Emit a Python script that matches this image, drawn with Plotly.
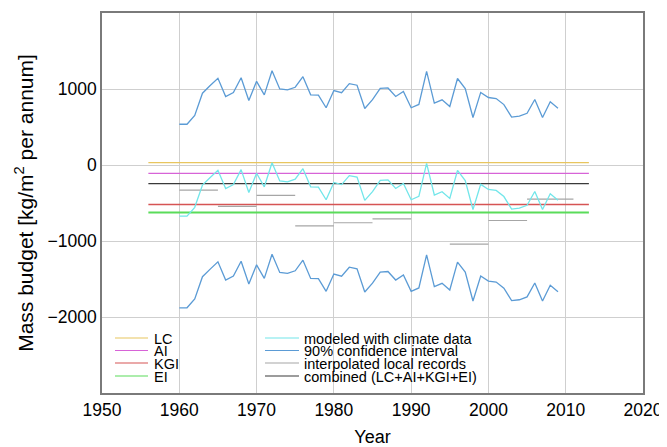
import plotly.graph_objects as go

years = list(range(1960, 2010))
modeled = [-674, -674, -557, -265, -165, -69, -309, -257, -61, -361,
           -109, -287, 30, -209, -222, -187, -48, -287, -291, -457,
           -230, -258, -140, -160, -466, -350, -203, -196, -309, -243,
           -457, -413, 22, -395, -352, -440, -72, -205, -585, -255,
           -322, -335, -415, -580, -568, -530, -348, -585, -378, -463]
ci_upper = [536, 536, 653, 945, 1045, 1141, 901, 953, 1149, 849,
            1101, 923, 1240, 1001, 988, 1023, 1162, 923, 919, 753,
            980, 952, 1070, 1050, 744, 860, 1007, 1014, 901, 967,
            753, 797, 1232, 815, 858, 770, 1138, 1005, 625, 955,
            888, 875, 795, 630, 642, 680, 862, 625, 832, 747]
ci_lower = [-1879, -1879, -1762, -1470, -1370, -1274, -1514, -1462, -1266, -1566,
            -1314, -1492, -1175, -1414, -1427, -1392, -1253, -1492, -1496, -1662,
            -1435, -1463, -1345, -1365, -1671, -1555, -1408, -1401, -1514, -1448,
            -1662, -1618, -1183, -1600, -1557, -1645, -1277, -1410, -1790, -1460,
            -1527, -1540, -1620, -1785, -1773, -1735, -1553, -1790, -1583, -1668]

# constant components (from, to, value)
const_span = [1956, 2013]
lc_value = 30
ai_value = -110
kgi_value = -520
ei_value = -625
combined_value = -245

# interpolated local records (segments)
seg_start = [1960, 1965, 1970, 1975, 1980, 1985, 1995, 2000, 2005]
seg_end = [1965, 1970, 1975, 1980, 1985, 1990, 2000, 2005, 2011]
seg_val = [-330, -545, -400, -800, -760, -710, -1040, -730, -450]

x_ticks = [1950, 1960, 1970, 1980, 1990, 2000, 2010, 2020]
y_ticks = [-2000, -1000, 0, 1000]

C_LC = "#E8C55E"
C_AI = "#D763D7"
C_KGI = "#D65454"
C_EI = "#5ADC5A"
C_MOD = "#72E6EA"
C_CI = "#5B9BD5"
C_INT = "#A6A6A6"
C_COMB = "#3A3A3A"

fig = go.Figure()

def hline(val, color, name, width=1.3):
    fig.add_trace(go.Scatter(x=const_span, y=[val, val], mode="lines",
                             line=dict(color=color, width=width), name=name,
                             showlegend=False))

hline(lc_value, C_LC, "LC")
hline(ai_value, C_AI, "AI")
hline(kgi_value, C_KGI, "KGI")
hline(ei_value, C_EI, "EI", width=1.8)

sx, sy = [], []
for a, b, v in zip(seg_start, seg_end, seg_val):
    sx += [a, b, None]
    sy += [v, v, None]
fig.add_trace(go.Scatter(x=sx, y=sy, mode="lines", line=dict(color=C_INT, width=1.2),
                         name="interpolated local records", showlegend=False))

hline(combined_value, C_COMB, "combined (LC+AI+KGI+EI)", width=1.2)

fig.add_trace(go.Scatter(x=years, y=ci_upper, mode="lines", line=dict(color=C_CI, width=1.3),
                         name="90% confidence interval", showlegend=False))
fig.add_trace(go.Scatter(x=years, y=ci_lower, mode="lines", line=dict(color=C_CI, width=1.3),
                         name="90% confidence interval", showlegend=False))
fig.add_trace(go.Scatter(x=years, y=modeled, mode="lines", line=dict(color=C_MOD, width=1.3),
                         name="modeled with climate data", showlegend=False))

# page body offset of the browser (default 8px margin)
OFF = 8
W, H = 659, 439
L, R, T, B = 94, 24, 5, 54
pw, ph = W - L - R, H - T - B

def px(x):
    return (x - OFF - L) / pw

def py(y):
    return (OFF + T + ph - y) / ph

# manual legend (two columns)
legend_cols = [
    (115, 148, 152, [("LC", C_LC), ("AI", C_AI), ("KGI", C_KGI), ("EI", C_EI)]),
    (265, 299, 302, [("modeled with climate data", C_MOD), ("90% confidence interval", C_CI),
                     ("interpolated local records", C_INT), ("combined (LC+AI+KGI+EI)", C_COMB)]),
]
rows_y = [338, 350.5, 363, 376]
for x0, x1, xt, items in legend_cols:
    for (label, col), yy in zip(items, rows_y):
        fig.add_shape(type="line", xref="paper", yref="paper",
                      x0=px(x0), x1=px(x1), y0=py(yy), y1=py(yy),
                      line=dict(color=col, width=1.2))
        fig.add_annotation(xref="paper", yref="paper", x=px(xt), y=py(yy + 0.5),
                           text=label, showarrow=False, xanchor="left", yanchor="middle",
                           font=dict(size=14.5, color="black"))

font_family = "Liberation Sans, Arial, sans-serif"
fig.update_layout(
    width=W, height=H,
    margin=dict(l=L, r=R, t=T, b=B),
    plot_bgcolor="white", paper_bgcolor="white",
    font=dict(family=font_family, color="black", size=17),
    showlegend=False,
    xaxis=dict(range=[1950, 2020], tickvals=x_ticks, showgrid=True, gridcolor="#CFCFCF",
               gridwidth=1, zeroline=False, showline=True, linecolor="#7A7A7A", linewidth=1.5,
               mirror=True, ticks="", tickfont=dict(size=17.5),
               title=dict(text="Year", font=dict(size=18), standoff=17), automargin=False),
    yaxis=dict(range=[-3000, 2000], tickvals=y_ticks, showgrid=True, gridcolor="#CFCFCF",
               gridwidth=1, zeroline=False, showline=True, linecolor="#7A7A7A", linewidth=1.5,
               mirror=True, ticks="", tickfont=dict(size=17.5),
               title=dict(text="Mass budget [kg/m<sup>2</sup> per annum]", font=dict(size=21), standoff=8),
               automargin=False),
)

fig.write_html("out.html")
